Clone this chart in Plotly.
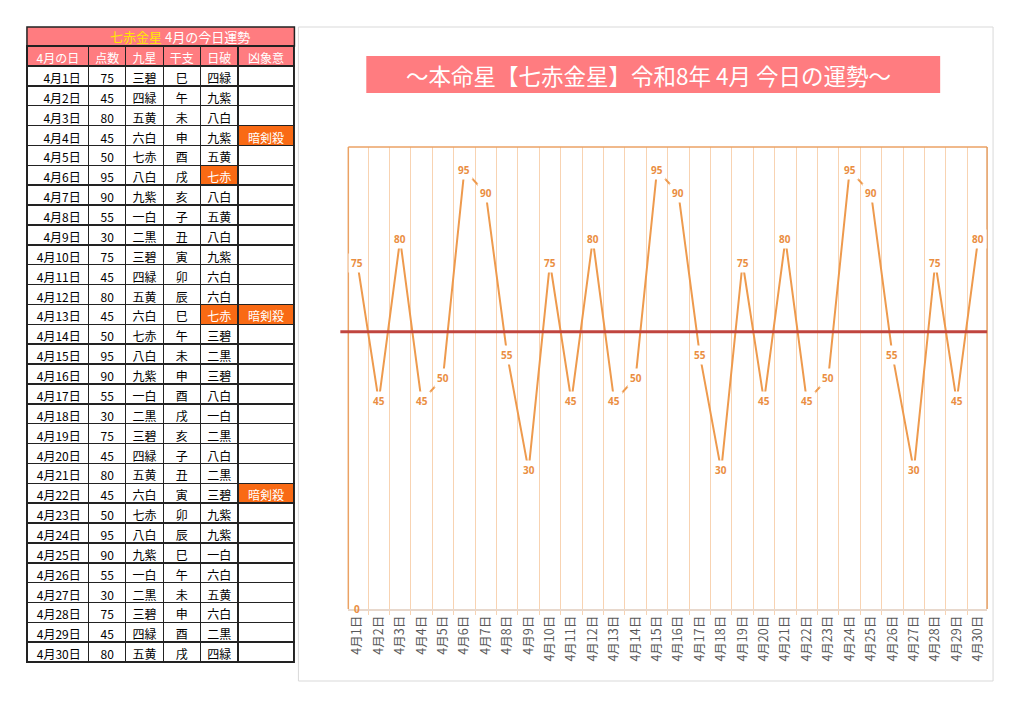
import plotly.graph_objects as go

W, H = 1024, 719
FONT = "Noto Sans CJK JP"
PINK = "#FF7C80"
ORANGE_CELL = "#F96A14"
LINE_ORANGE = "#EE9A4D"
LABEL_ORANGE = "#EA8E42"
GRID_ORANGE = "#F8D3B2"

# ---------------- data ----------------
days = [f"4月{d}日" for d in range(1, 31)]
scores = [75, 45, 80, 45, 50, 95, 90, 55, 30, 75, 45, 80, 45, 50, 95,
          90, 55, 30, 75, 45, 80, 45, 50, 95, 90, 55, 30, 75, 45, 80]
kyusei = ["三碧", "四緑", "五黄", "六白", "七赤", "八白", "九紫", "一白", "二黒", "三碧",
          "四緑", "五黄", "六白", "七赤", "八白", "九紫", "一白", "二黒", "三碧", "四緑",
          "五黄", "六白", "七赤", "八白", "九紫", "一白", "二黒", "三碧", "四緑", "五黄"]
eto = ["巳", "午", "未", "申", "酉", "戌", "亥", "子", "丑", "寅",
       "卯", "辰", "巳", "午", "未", "申", "酉", "戌", "亥", "子",
       "丑", "寅", "卯", "辰", "巳", "午", "未", "申", "酉", "戌"]
nippa = ["四緑", "九紫", "八白", "九紫", "五黄", "七赤", "八白", "五黄", "八白", "九紫",
         "六白", "六白", "七赤", "三碧", "二黒", "三碧", "八白", "一白", "二黒", "八白",
         "二黒", "三碧", "九紫", "九紫", "一白", "六白", "五黄", "六白", "二黒", "四緑"]
kyosho = ["", "", "", "暗剣殺", "", "", "", "", "", "",
          "", "", "暗剣殺", "", "", "", "", "", "", "",
          "", "暗剣殺", "", "", "", "", "", "", "", ""]
headers = ["4月の日", "点数", "九星", "干支", "日破", "凶象意"]
honmei = "七赤"
table_title_star = "七赤金星"
table_title_rest = " 4月の今日運勢"
chart_title = "～本命星【七赤金星】令和8年 4月 今日の運勢～"
reference_level = 60
zero_label_value = [0]

# ---------------- helpers ----------------
def px(x):
    return x / W


def py(y):
    return 1 - y / H


n = len(days)
white_col = ["white"] * n
nippa_fill = [ORANGE_CELL if v == honmei else "white" for v in nippa]
kyosho_fill = [ORANGE_CELL if v else "white" for v in kyosho]
black_col = ["black"] * n
nippa_font = ["white" if v == honmei else "black" for v in nippa]
kyosho_font = ["white" if v else "black" for v in kyosho]

fig = go.Figure()

fig.add_trace(go.Table(
    domain=dict(x=[px(25), px(293)], y=[py(664), py(46)]),
    columnwidth=[62, 37, 38, 37, 38, 56],
    header=dict(values=headers, fill_color=PINK,
                line=dict(color="#222222", width=1.5),
                font=dict(color="white", size=12, family=FONT),
                height=20, align="center"),
    cells=dict(values=[days, scores, kyusei, eto, nippa, kyosho],
               fill_color=[white_col, white_col, white_col, white_col, nippa_fill, kyosho_fill],
               font=dict(color=[black_col, black_col, black_col, black_col, nippa_font, kyosho_font],
                         size=12, family=FONT),
               line=dict(color="#222222", width=1.5),
               height=19.87,
               align=["right", "center", "center", "center", "center", "center"]),
))

fig.add_trace(go.Scatter(
    x=days, y=scores, mode="lines",
    line=dict(color=LINE_ORANGE, width=2),
    hoverinfo="skip", showlegend=False,
))

annotations = []
for d, s in zip(days, scores):
    annotations.append(dict(
        x=d, y=s, xref="x", yref="y", text=str(s), showarrow=False,
        xanchor="center", yanchor="middle",
        font=dict(size=10, color=LABEL_ORANGE, family="Noto Sans", weight="bold"),
        bgcolor="white", borderpad=2,
    ))
for v in zero_label_value:
    annotations.append(dict(
        x=days[0], y=v, xref="x", yref="y", text=str(v), showarrow=False,
        xanchor="center", yanchor="middle",
        font=dict(size=10, color=LABEL_ORANGE, family="Noto Sans", weight="bold"),
        bgcolor="rgba(255,255,255,0)",
    ))

# table title row text
annotations.append(dict(
    x=px(178), y=py(36.5), xref="paper", yref="paper", showarrow=False,
    xanchor="center", yanchor="middle",
    text=f"<span style='color:#FFE800'>{table_title_star}</span>{table_title_rest}",
    font=dict(size=13, color="white", family=FONT),
))
# chart title
annotations.append(dict(
    x=px(648), y=py(74.5), xref="paper", yref="paper", showarrow=False,
    xanchor="center", yanchor="middle",
    text=chart_title, font=dict(size=22.5, color="white", family=FONT),
))

shapes = [
    # chart area border
    dict(type="rect", xref="paper", yref="paper", x0=px(297), x1=px(993), y0=py(681), y1=py(27),
         line=dict(color="#D9D9D9", width=1), fillcolor="rgba(0,0,0,0)", layer="below"),
    # title box
    dict(type="rect", xref="paper", yref="paper", x0=px(365), x1=px(940), y0=py(93), y1=py(56),
         line=dict(width=0), fillcolor=PINK, layer="below"),
    # table title row
    dict(type="rect", xref="paper", yref="paper", x0=px(25), x1=px(293), y0=py(46), y1=py(27),
         line=dict(color="#222222", width=1.5), fillcolor=PINK, layer="below"),
    # plot area border (left, top, right)
    dict(type="line", xref="x domain", yref="y domain", x0=0, x1=0, y0=0, y1=1,
         line=dict(color="#EBA264", width=1.5)),
    dict(type="line", xref="x domain", yref="y domain", x0=0, x1=1, y0=1, y1=1,
         line=dict(color="#EBA264", width=1.5)),
    dict(type="line", xref="x domain", yref="y domain", x0=1, x1=1, y0=0, y1=1,
         line=dict(color="#E39A5C", width=1.5)),
    # reference line
    dict(type="line", xref="paper", yref="y", x0=px(339), x1=px(987),
         y0=reference_level, y1=reference_level,
         line=dict(color="#C0453F", width=3)),
]

fig.update_layout(
    width=W, height=H,
    margin=dict(l=0, r=0, t=0, b=0),
    paper_bgcolor="white", plot_bgcolor="white",
    showlegend=False,
    font=dict(family=FONT),
    xaxis=dict(
        domain=[px(347), px(987)], type="category", categoryorder="array", categoryarray=days,
        tickson="boundaries", showgrid=True, gridcolor=GRID_ORANGE, gridwidth=1,
        ticks="outside", ticklen=4, tickcolor=GRID_ORANGE,
        showline=True, linecolor="#E8D8CC", linewidth=1.5,
        tickangle=-90, tickfont=dict(size=12.5, color="#595959", family=FONT),
        zeroline=False, fixedrange=True,
    ),
    yaxis=dict(
        domain=[py(609), py(147)], range=[0, 100], showgrid=False, zeroline=False,
        showticklabels=False, ticks="", showline=False, fixedrange=True,
    ),
    annotations=annotations,
    shapes=shapes,
)

fig.write_html("out.html", config={"displayModeBar": False},
               post_script="document.body.style.margin='0';")
